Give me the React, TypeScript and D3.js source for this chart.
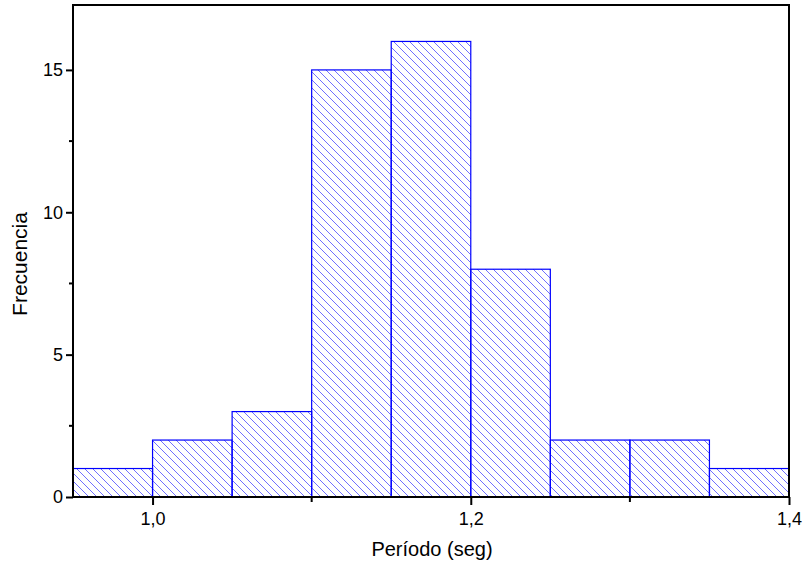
import React, { useEffect, useRef } from "react";
import * as d3 from "d3";

// bins de 0.05 s
const binStarts = [0.95, 1.0, 1.05, 1.1, 1.15, 1.2, 1.25, 1.3, 1.35];
const counts = [1, 2, 3, 15, 16, 8, 2, 2, 1];
const binWidth = 0.05;
const xTicks = [1.0, 1.2, 1.4];
const xMinor = [1.1, 1.3];
const yTicks = [0, 5, 10, 15];
const yMinor = [2.5, 7.5, 12.5];

export default function App() {
  const ref = useRef<SVGSVGElement>(null);

  useEffect(() => {
    const svg = d3.select(ref.current);
    svg.selectAll("*").remove();

    const left = 73, right = 789, top = 5, bottom = 497;
    const font = "Liberation Sans, Arial, sans-serif";

    const x = d3.scaleLinear().domain([0.95, 1.4]).range([left, right]);
    const y = d3.scaleLinear().domain([0, 17.28]).range([bottom, top]);

    // hatch pattern
    const defs = svg.append("defs");
    const pat = defs.append("pattern")
      .attr("id", "hatch")
      .attr("patternUnits", "userSpaceOnUse")
      .attr("width", 8)
      .attr("height", 8);
    pat.append("path")
      .attr("d", "M-2,-2 L10,10 M-2,6 L2,10 M6,-2 L10,2")
      .attr("stroke", "#7070ff")
      .attr("stroke-width", 1);

    const g = svg.append("g");

    // bars
    g.selectAll("rect.bar")
      .data(counts)
      .enter()
      .append("rect")
      .attr("class", "bar")
      .attr("x", (d, i) => x(binStarts[i]))
      .attr("y", d => y(d))
      .attr("width", (d, i) => x(binStarts[i] + binWidth) - x(binStarts[i]))
      .attr("height", d => y(0) - y(d))
      .attr("fill", "url(#hatch)")
      .attr("stroke", "#0000ff")
      .attr("stroke-width", 1.2);

    // frame
    g.append("path")
      .attr("d", `M${left},${bottom} V${top} H${right} V${bottom} Z`)
      .attr("fill", "none")
      .attr("stroke", "#000")
      .attr("stroke-width", 2);

    // x axis
    const xAxis = g.append("g").attr("transform", `translate(0,${bottom})`);
    xAxis.call(
      d3.axisBottom(x).tickValues(xTicks).tickSize(8).tickPadding(7)
        .tickFormat(d => d3.format(".1f")(d as number).replace(".", ","))
    );
    xAxis.select(".domain").remove();
    xAxis.selectAll("line").attr("stroke", "#000").attr("stroke-width", 2);
    xAxis.selectAll("text").attr("font-family", font).attr("font-size", 18).attr("fill", "#000");
    xMinor.forEach(v => {
      xAxis.append("line").attr("x1", x(v)).attr("x2", x(v)).attr("y1", 0).attr("y2", 5)
        .attr("stroke", "#000").attr("stroke-width", 2);
    });

    // y axis
    const yAxis = g.append("g").attr("transform", `translate(${left},0)`);
    yAxis.call(d3.axisLeft(y).tickValues(yTicks).tickSize(7).tickPadding(3));
    yAxis.select(".domain").remove();
    yAxis.selectAll("line").attr("stroke", "#000").attr("stroke-width", 2);
    yAxis.selectAll("text").attr("font-family", font).attr("font-size", 18).attr("fill", "#000");
    yMinor.forEach(v => {
      yAxis.append("line").attr("x1", 0).attr("x2", -4).attr("y1", y(v)).attr("y2", y(v))
        .attr("stroke", "#000").attr("stroke-width", 2);
    });

    // labels
    svg.append("text")
      .attr("x", 432)
      .attr("y", 556)
      .attr("text-anchor", "middle")
      .attr("font-family", font)
      .attr("font-size", 20)
      .text("Período (seg)");

    svg.append("text")
      .attr("transform", `translate(27,264) rotate(-90)`)
      .attr("text-anchor", "middle")
      .attr("font-family", font)
      .attr("font-size", 21)
      .text("Frecuencia");
  }, []);

  return (
    <svg ref={ref} width={804} height={567}
      style={{ position: "absolute", left: 0, top: 0 }} />
  );
}
